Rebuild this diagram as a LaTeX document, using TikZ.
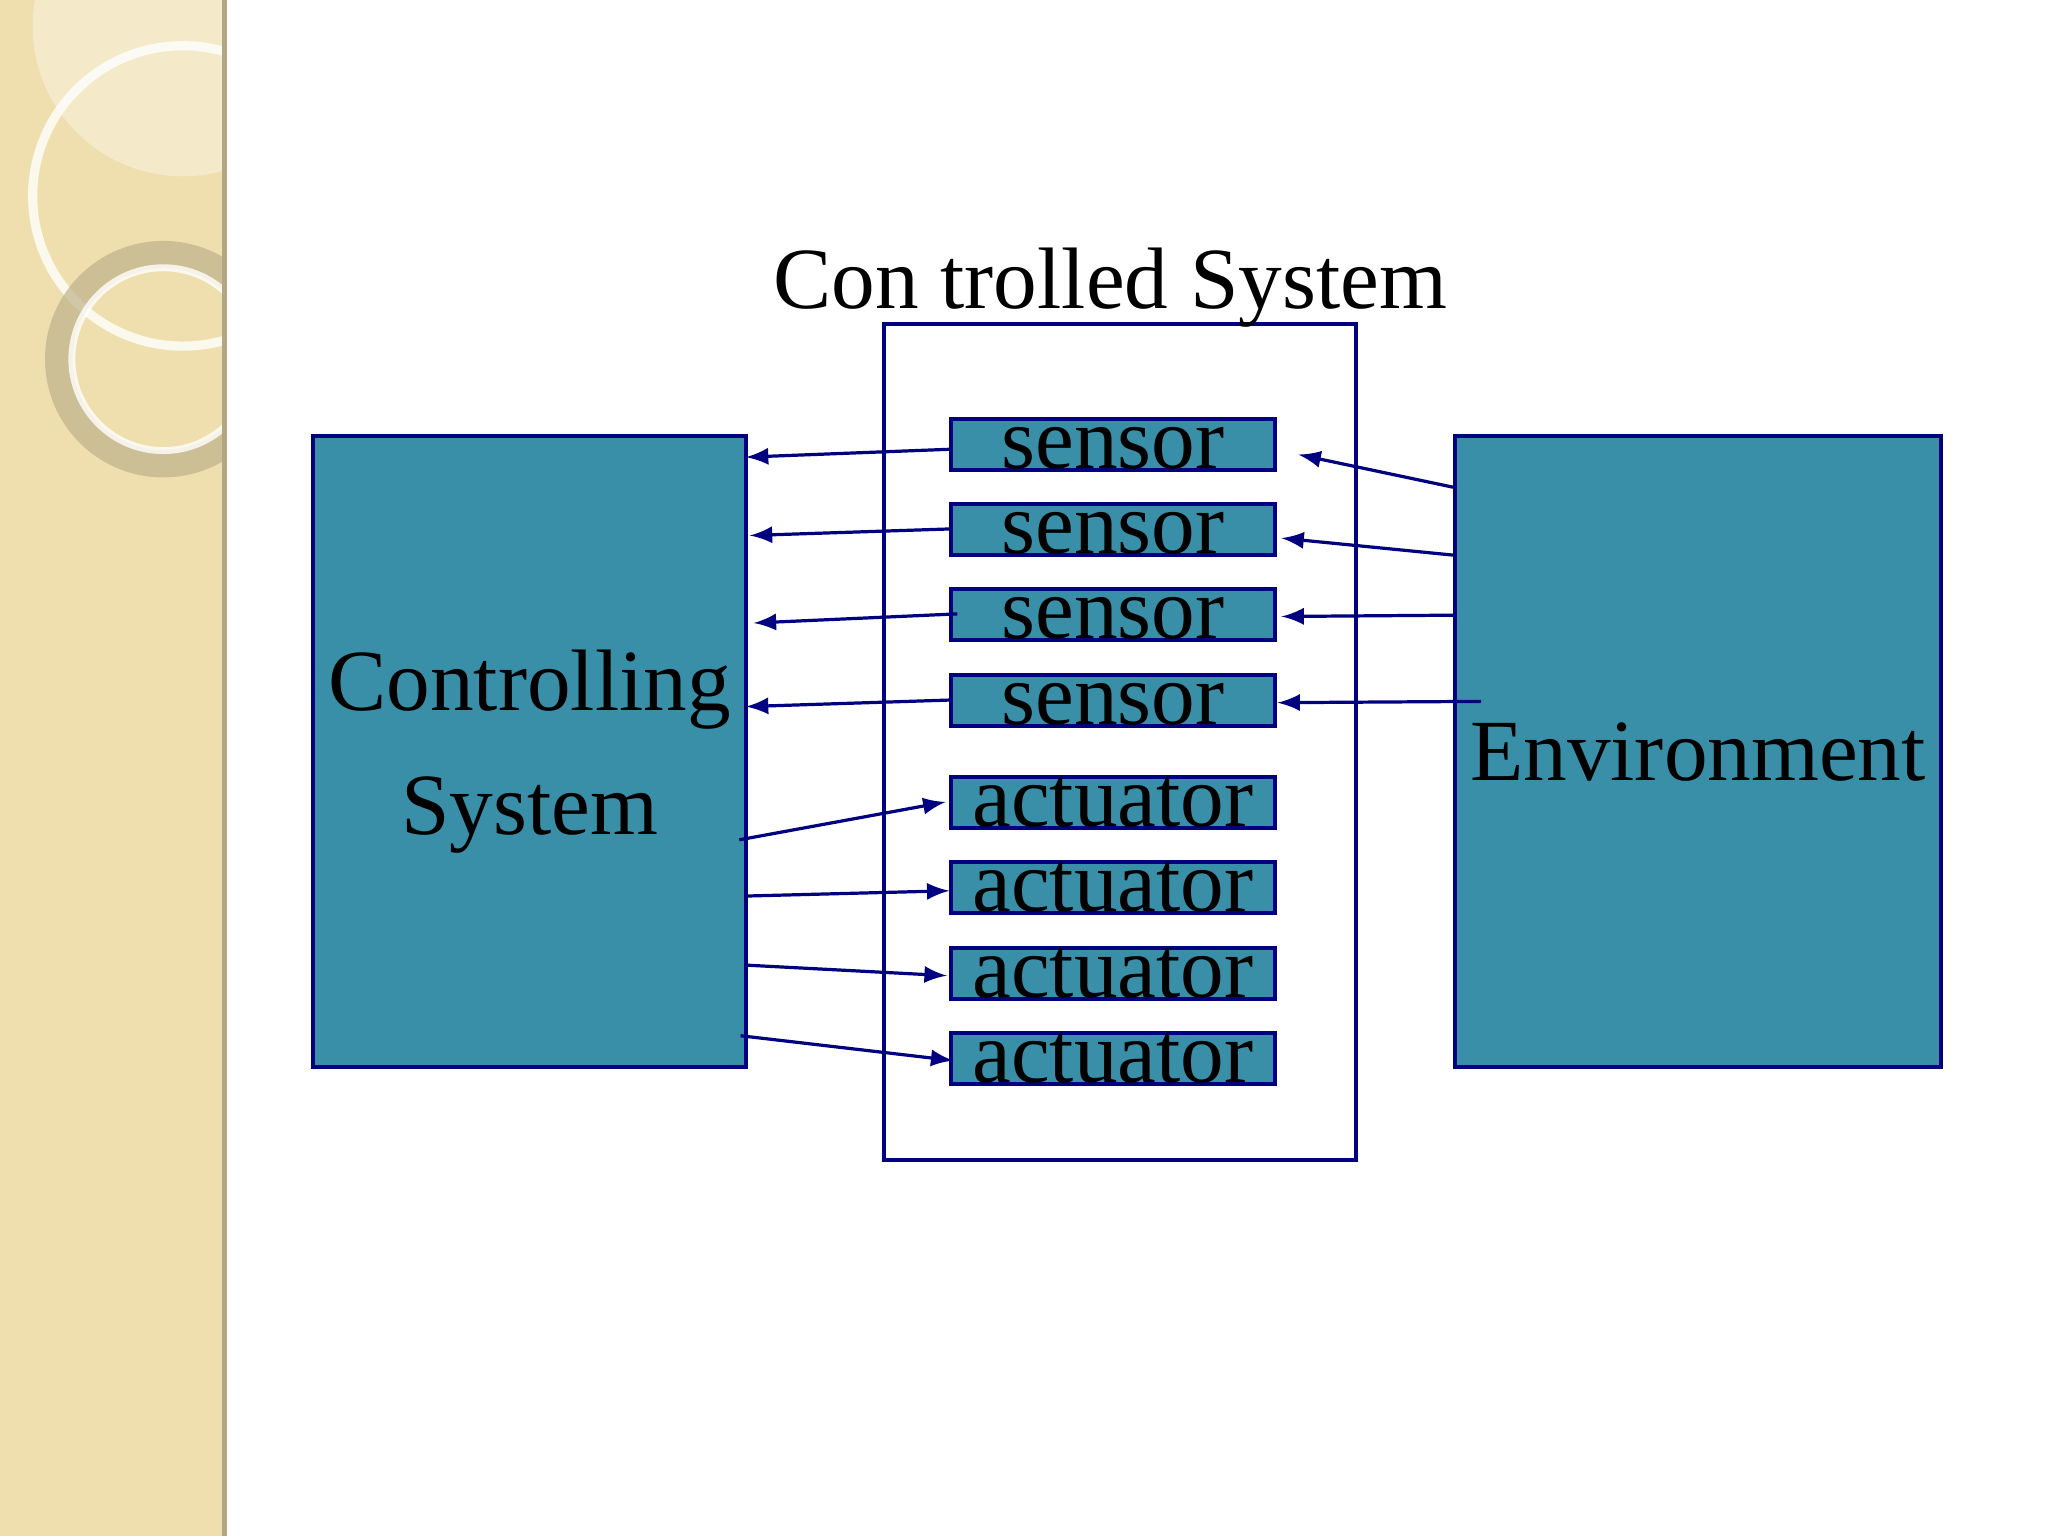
\documentclass[tikz,border=0pt]{standalone}
\usepackage{fontspec}
\setmainfont{Liberation Serif}
\definecolor{teal0}{HTML}{3A8FA8}
\definecolor{navy}{HTML}{000080}
\definecolor{beige}{HTML}{EFDFAE}
\begin{document}
\begin{tikzpicture}[x=0.01cm,y=-0.01cm,
  blk/.style={draw=navy,fill=teal0,line width=0.8pt},
  con/.style={draw=navy,line width=0.7pt,-latex}]
\useasboundingbox (0,0) rectangle (1568,1176);
\fill[white] (0,0) rectangle (1568,1176);
% decorative strip
\begin{scope}
\clip (0,0) rectangle (173,1176);
\fill[beige] (0,0) rectangle (173,1176);
\fill[white,opacity=0.35] (140,20) circle (115);
\draw[white,line width=2pt,opacity=0.8] (140,150) circle (115);
\draw[black!20!beige,line width=6pt,opacity=0.7] (125,275) circle (80);
\draw[white,line width=1.5pt,opacity=0.8] (125,275) circle (70);
\end{scope}
\fill[black!25!beige] (170,0) rectangle (174,1176);
% controlled system
\draw[navy,line width=0.8pt] (677,248) rectangle (1038,888);
\node (title) at (850,220) {\fontsize{19pt}{22pt}\selectfont Con trolled System};
\node[blk,minimum width=3.27cm,minimum height=4.83cm,align=center,
  font=\fontsize{19pt}{27pt}\selectfont] (ctl) at (405.5,575.5) {Controlling\\System};
\node[blk,minimum width=3.26cm,minimum height=4.83cm,
  font=\fontsize{19pt}{22pt}\selectfont] (env) at (1300,575.5) {Environment};
\foreach \n/\y/\t in {s1/340.5/sensor,s2/405.5/sensor,s3/470.5/sensor,s4/536.5/sensor,
  a1/614.5/actuator,a2/679.5/actuator,a3/745.5/actuator,a4/810.5/actuator}{
  \node[blk,minimum width=2.48cm,minimum height=0.39cm,inner sep=0pt] (\n) at (852,\y) {};
  \node[font=\fontsize{19pt}{22pt}\selectfont,anchor=base] at (852,\y+18) {\t};
}
% sensor -> controller
\draw[con] (s1.west |- 0,344) -- (571,350);
\draw[con] (s2.west |- 0,405) -- (574,410);
\draw[con] (733,470) -- (577,477);
\draw[con] (s4.west |- 0,536) -- (571,541);
% environment -> sensors
\draw[con] (env.west |- 0,373) -- (994,348);
\draw[con] (env.west |- 0,425) -- (981,412);
\draw[con] (env.west |- 0,471) -- (981,472);
\draw[con] (1134,537) -- (978,538);
% controller -> actuators
\draw[con] (566,643) -- (724,614);
\draw[con] (ctl.east |- 0,686) -- (727,682);
\draw[con] (ctl.east |- 0,739) -- (725,747);
\draw[con] (567,793) -- (730,812);
\end{tikzpicture}
\end{document}
